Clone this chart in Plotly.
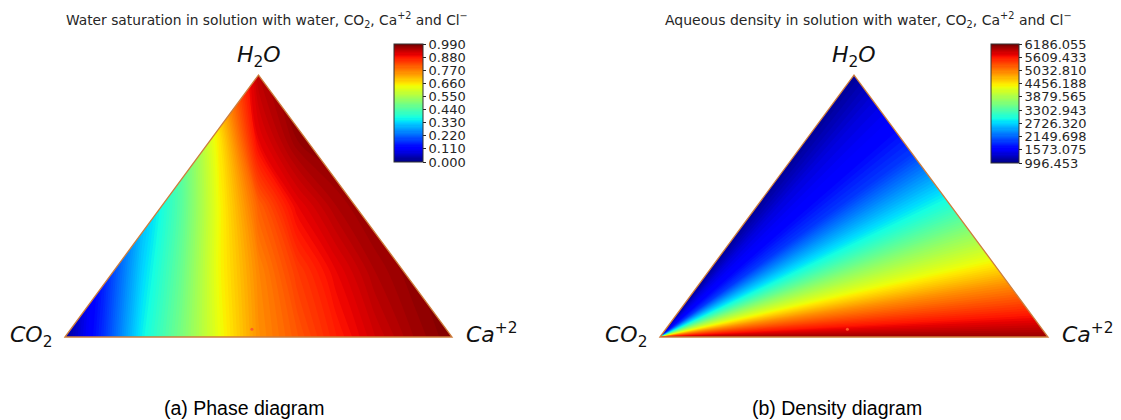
import plotly.graph_objects as go

W, H = 1121, 420

# ---------------- data ----------------
# (a) water saturation: columns = fraction along the CO2 -> Ca+2 base,
#     rows = height fraction towards the H2O apex
sat_x = [0.0, 0.1, 0.2, 0.3, 0.4, 0.5, 0.6, 0.7, 0.8, 0.9, 1.0]
sat_v = [0.0, 0.25, 0.5, 0.75, 1.0]
sat_z = [
    [0.02, 0.17, 0.36, 0.49, 0.63, 0.75, 0.81, 0.87, 0.92, 0.96, 0.99],
    [0.00, 0.15, 0.33, 0.47, 0.64, 0.76, 0.84, 0.90, 0.95, 0.98, 0.99],
    [0.00, 0.12, 0.30, 0.45, 0.64, 0.80, 0.90, 0.95, 0.98, 0.99, 0.99],
    [0.00, 0.12, 0.30, 0.45, 0.66, 0.90, 0.97, 0.99, 0.99, 0.99, 0.99],
    [0.00, 0.12, 0.30, 0.45, 0.74, 0.94, 0.99, 0.99, 0.99, 0.99, 0.99],
]
sat_ticks = [0.0, 0.11, 0.22, 0.33, 0.44, 0.55, 0.66, 0.77, 0.88, 0.99]
sat_min, sat_max = 0.0, 0.99

# (b) aqueous density along rays from the CO2 vertex,
#     indexed by fraction along the H2O -> Ca+2 edge
dens_s = [0.0, 0.1, 0.2, 0.3, 0.4, 0.5, 0.6, 0.7, 0.8, 0.9, 1.0]
dens_vals = [1100, 1411, 1619, 1930, 2501, 3072, 3695, 4265, 4940, 5511, 6082]
dens_ticks = [996.453, 1573.075, 2149.698, 2726.320, 3302.943, 3879.565,
              4456.188, 5032.810, 5609.433, 6186.055]
dens_min, dens_max = 996.453, 6186.055

# small marked point in each diagram (base fraction, height fraction)
dot_x = [0.483]
dot_v = [0.03]

titles = [
    "Water saturation in solution with water, CO<sub>2</sub>, Ca<sup>+2</sup> and Cl<sup>\u2212</sup>",
    "Aqueous density in solution with water, CO<sub>2</sub>, Ca<sup>+2</sup> and Cl<sup>\u2212</sup>",
]
captions = ["(a) Phase diagram", "(b) Density diagram"]
vertex_labels = ["<i>H</i><sub>2</sub><i>O</i>", "<i>CO</i><sub>2</sub>", "<i>Ca</i><sup>+2</sup>"]

# ---------------- styling ----------------
jet = [
    [0.0, "rgb(0,0,128)"], [0.11, "rgb(0,0,255)"], [0.125, "rgb(0,0,255)"],
    [0.34, "rgb(0,219,255)"], [0.35, "rgb(0,230,247)"], [0.375, "rgb(21,255,226)"],
    [0.64, "rgb(239,255,8)"], [0.65, "rgb(247,245,0)"], [0.66, "rgb(255,236,0)"],
    [0.89, "rgb(255,19,0)"], [0.91, "rgb(232,0,0)"], [1.0, "rgb(128,0,0)"],
]
EDGE = "rgb(205,125,60)"
TXT = "#262626"
PAD = 0.03

# triangle pixel geometry: (left vertex x, right vertex x, base y, apex y)
tri_px = [(65, 452, 337, 75), (660, 1048, 337, 75)]


def domains(x0, x1, yb, yt):
    ux = x1 - x0
    uy = yb - yt
    dx = [(x0 - PAD * ux) / W, (x1 + PAD * ux) / W]
    dy = [(H - (yb + PAD * uy)) / H, (H - (yt - PAD * uy)) / H]
    return dx, dy


def cbar(x_px, thick, length, ticks):
    return dict(
        x=x_px / W, xanchor="left", xpad=0, y=(H - 44) / H, yanchor="top", ypad=0,
        thickness=thick, len=length, lenmode="pixels",
        tickvals=ticks, ticktext=["%.3f" % t for t in ticks],
        ticks="outside", ticklen=3, tickwidth=1, tickcolor=TXT,
        tickfont=dict(family="DejaVu Sans", size=13, color=TXT),
        outlinewidth=1, outlinecolor="#333333",
    )


fig = go.Figure()

# (a) saturation field
fig.add_trace(go.Contour(
    x=sat_x, y=sat_v, z=sat_z, xaxis="x", yaxis="y",
    colorscale=jet, zmin=sat_min, zmax=sat_max, autocontour=False,
    contours=dict(start=sat_min, end=sat_max, size=(sat_max - sat_min) / 100,
                  coloring="fill", showlines=False),
    line=dict(width=0), hoverinfo="skip",
    colorbar=cbar(394, 29, 118, sat_ticks),
))

# (b) density field: fan of rays from the CO2 vertex drawn on a carpet
car_b = [0.0, 1.0]
car_x = [[r * (0.5 + 0.5 * s) for s in dens_s] for r in car_b]
car_y = [[r * (1 - s) for s in dens_s] for r in car_b]
hidden_axis = dict(showgrid=False, showline=False, showticklabels="none",
                   startline=False, endline=False, minorgridcount=0,
                   smoothing=0, gridwidth=0, linewidth=0)
fig.add_trace(go.Carpet(
    carpet="c2", a=dens_s, b=car_b, x=car_x, y=car_y,
    xaxis="x2", yaxis="y2", aaxis=hidden_axis, baxis=hidden_axis,
))
fig.add_trace(go.Contourcarpet(
    carpet="c2", a=dens_s, b=car_b, z=[dens_vals for _ in car_b],
    colorscale=jet, zmin=dens_min, zmax=dens_max, autocontour=False,
    contours=dict(start=dens_min, end=dens_max, size=(dens_max - dens_min) / 100,
                  coloring="fill", showlines=False),
    line=dict(width=0),
    colorbar=cbar(991, 28, 119, dens_ticks),
))

# marked points
for ax in ["", "2"]:
    fig.add_trace(go.Scatter(
        x=dot_x, y=dot_v, mode="markers", xaxis="x" + ax, yaxis="y" + ax,
        marker=dict(size=3, color="rgb(255,90,40)"), hoverinfo="skip", showlegend=False,
    ))

shapes = []
annotations = []
for i, (x0, x1, yb, yt) in enumerate(tri_px):
    sfx = "" if i == 0 else "2"
    dx, dy = domains(x0, x1, yb, yt)
    axis = dict(domain=dx, range=[-PAD, 1 + PAD], visible=False, fixedrange=True)
    yaxis = dict(domain=dy, range=[-PAD, 1 + PAD], visible=False, fixedrange=True)
    if i == 0:
        fig.update_layout(xaxis=axis, yaxis=dict(yaxis, anchor="x"))
    else:
        fig.update_layout(xaxis2=dict(axis, anchor="y2"), yaxis2=dict(yaxis, anchor="x2"))
    xr, yr = "x" + sfx, "y" + sfx
    # white masks outside the triangle
    shapes.append(dict(type="path", xref=xr, yref=yr, layer="above",
                       path="M -0.04,-0.001 L 0,0 L 0.5,1 L 0.5,1.04 L -0.04,1.04 Z",
                       fillcolor="white", line=dict(width=0)))
    shapes.append(dict(type="path", xref=xr, yref=yr, layer="above",
                       path="M 1.04,-0.001 L 1,0 L 0.5,1 L 0.5,1.04 L 1.04,1.04 Z",
                       fillcolor="white", line=dict(width=0)))
    shapes.append(dict(type="path", xref=xr, yref=yr, layer="above",
                       path="M 0,0 L 0.5,1 L 1,0 Z",
                       line=dict(color=EDGE, width=1.3)))

    apex_x = (x0 + x1) / 2
    # vertex labels
    for txt, px, py in [(vertex_labels[0], apex_x, 57),
                        (vertex_labels[1], x0 - 34, 336),
                        (vertex_labels[2], x1 + 40, 333)]:
        annotations.append(dict(text=txt, x=px / W, y=1 - py / H, xref="paper", yref="paper",
                                showarrow=False, xanchor="center", yanchor="middle",
                                font=dict(family="DejaVu Sans", size=22, color="#111111")))

# titles and captions
for txt, px, fs in zip(titles, [267, 868], [13.8, 14]):
    annotations.append(dict(text=txt, x=px / W, y=1 - 20 / H, xref="paper", yref="paper",
                            showarrow=False, xanchor="center", yanchor="middle",
                            font=dict(family="DejaVu Sans", size=fs, color=TXT)))
for txt, px in zip(captions, [244, 837]):
    annotations.append(dict(text=txt, x=px / W, y=1 - 408 / H, xref="paper", yref="paper",
                            showarrow=False, xanchor="center", yanchor="middle",
                            font=dict(family="Liberation Sans", size=19.5, color="#000000")))

fig.update_layout(
    width=W, height=H, margin=dict(l=0, r=0, t=0, b=0),
    paper_bgcolor="white", plot_bgcolor="white", showlegend=False,
    shapes=shapes, annotations=annotations,
)

fig.write_html("out.html")
